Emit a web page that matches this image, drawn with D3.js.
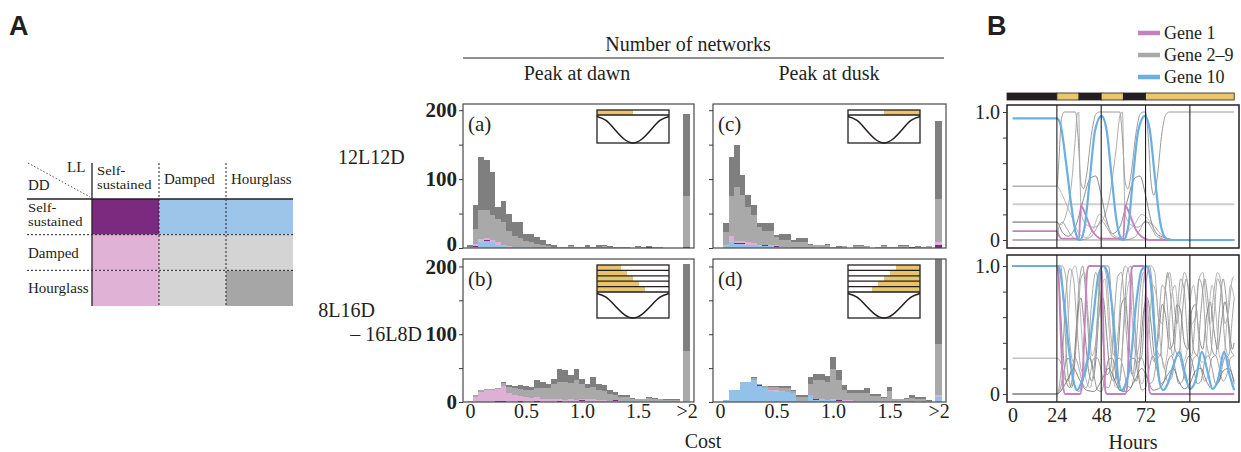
<!DOCTYPE html>
<html>
<head>
<meta charset="utf-8">
<script src="https://cdn.jsdelivr.net/npm/d3@7"></script>
<style>
  body { margin: 0; background: #fff; }
  svg { display: block; }
  text { font-family: "Liberation Serif", "Times New Roman", serif; fill: #231f20; }
  .tick line { stroke: #3a3a3a; }
</style>
</head>
<body>
<svg id="chart" width="1241" height="452"></svg>
<script>
// ---------- A: classification table ----------
const llStates = ["Self-\nsustained", "Damped", "Hourglass"];
const ddStates = ["Self-\nsustained", "Damped", "Hourglass"];
// [DD row][LL column]
const tableCells = [
  ["ss", "ssDD", "ssDD"],
  ["ssLL", "other", "other"],
  ["ssLL", "other", "hg"]
];

// ---------- A: cost histograms (counts per 0.05 bin, bins centred at 0, 0.05, ... 1.85) ----------
// layer order: ssDD (blue), ss (purple), ssLL (pink), other (light grey), hg (dark grey)
const dawn12_ssDD  = [0,2,8,10,8,4,3,2,1,1,1,1,0,0,1,0,0,0,0,0,0,0,0,0,0,0,0,0,0,0,1,0,0,0,0,0,0,0];
const dawn12_ss    = [0,1,0,1,1,0,0,0,0,0,0,0,0,0,0,0,0,0,0,0,0,0,0,0,0,0,0,0,0,0,0,0,1,0,0,0,0,0];
const dawn12_ssLL  = [1,3,5,3,3,4,2,1,1,1,0,0,0,0,0,0,0,0,0,0,0,0,0,0,0,0,0,0,0,0,0,0,0,0,0,0,0,0];
const dawn12_other = [1,22,42,41,36,34,33,22,16,13,9,7,6,4,2,2,1,1,3,2,1,2,2,2,3,2,1,1,2,0,1,1,1,2,1,0,0,0];
const dawn12_hg    = [2,35,77,73,62,18,30,25,20,23,11,12,10,7,3,2,1,0,2,0,0,2,0,2,2,1,0,0,0,0,1,0,1,0,1,0,0,0];
const dawn12_over  = [0,2,0,73,119];

const dusk12_ssDD  = [0,3,8,6,6,5,4,3,3,3,2,2,2,0,0,0,0,1,0,0,1,0,1,0,0,0,1,0,0,0,0,0,0,0,0,0,0,1];
const dusk12_ss    = [0,0,1,1,1,0,1,0,1,0,1,0,0,0,0,0,0,0,0,0,0,0,0,0,0,0,0,0,0,0,0,0,0,0,1,0,0,0];
const dusk12_ssLL  = [0,1,9,3,3,3,2,2,1,1,1,0,0,0,0,0,0,0,0,0,0,0,0,0,0,0,0,0,0,0,0,0,0,0,0,0,0,0];
const dusk12_other = [0,19,57,79,67,52,41,26,19,20,12,9,9,9,9,9,4,3,4,4,1,2,2,0,3,3,2,0,2,3,1,1,3,3,1,2,2,2];
const dusk12_hg    = [0,13,57,61,29,17,14,5,13,13,3,9,9,2,5,5,2,1,1,2,0,1,0,0,1,1,0,0,0,2,0,0,1,1,0,1,0,0];
const dusk12_over  = [0,5,3,63,113];

const dawnVar_ssDD  = [0,0,0,0,0,0,0,0,0,0,1,0,0,0,0,0,0,0,1,1,2,2,2,2,2,2,2,2,2,1,1,1,1,1,1,1,1,1];
const dawnVar_ss    = [0,0,0,0,0,1,1,0,0,1,0,0,1,0,0,0,1,0,0,0,1,0,0,0,0,0,1,0,0,0,0,0,0,0,0,0,0,0];
const dawnVar_ssLL  = [2,8,15,17,17,18,22,13,10,8,7,6,6,5,5,4,4,3,3,2,2,2,2,1,1,0,0,0,0,0,0,0,0,0,0,0,0,0];
const dawnVar_other = [0,2,3,2,2,1,5,9,10,10,10,12,13,16,15,22,24,26,24,30,22,16,18,14,13,10,8,6,6,4,3,3,5,4,3,2,2,2];
const dawnVar_hg    = [0,0,0,0,0,0,2,3,3,6,6,4,12,9,6,8,19,18,12,16,7,7,15,10,9,5,4,2,2,1,1,1,1,1,1,1,1,1];
const dawnVar_over  = [1,0,1,73,128];

const duskVar_ssDD  = [0,3,17,17,30,30,32,24,20,16,15,15,15,14,2,2,10,3,3,3,3,2,2,2,2,1,1,1,1,1,2,0,2,1,0,0,0,0];
const duskVar_ss    = [0,0,0,0,0,0,0,1,0,0,0,0,0,0,0,0,0,1,0,0,0,1,0,0,0,1,0,0,0,1,0,0,0,0,0,0,0,0];
const duskVar_ssLL  = [0,0,0,0,0,0,0,0,0,2,3,1,0,0,0,0,0,0,1,0,1,0,1,1,0,0,0,0,0,0,0,0,0,0,0,1,0,0];
const duskVar_other = [0,0,0,0,0,0,4,2,3,4,4,5,6,2,6,6,17,28,28,26,45,29,14,10,11,11,13,8,8,4,14,4,2,4,6,4,5,2];
const duskVar_hg    = [0,0,0,0,0,0,1,0,1,1,1,2,2,1,2,2,10,10,10,10,18,15,8,4,4,4,6,3,3,1,6,1,1,1,4,2,2,1];
const duskVar_over  = [7,0,3,75,127];

const costTicks = [0, 0.5, 1.0, 1.5];
const overflowLabel = ">2";
const overflowAt = 1.935;
const photoperiods12 = [12];
const photoperiodsVar = [8, 10, 12, 14, 16];
// schematic of peak time in the insets (hour of day, relative level)
const insetCurve = [[0,1],[3,0.85],[6,0.5],[9,0.15],[12,0],[15,0.15],[18,0.5],[21,0.85],[24,1]];

// ---------- B: example traces ----------
const lightSchedule = [[-3,24,0],[24,36,1],[36,48,0],[48,60,1],[60,72,0],[72,120,1]];
const hourTicks = [0, 24, 48, 72, 96];

const top_gene1 = [[0,0.07],[24,0.07],[25,0.04],[26.5,0.01],[36,0.01],[36.5,0.15],[37,0.27],[38,0.25],[40,0.18],[42.8,0.08],[45.5,0.03],[48,0.01],[60,0.01],[60.5,0.15],[61,0.27],[62,0.25],[64,0.18],[66.8,0.08],[69.5,0.03],[72,0.01],[74,0],[120,0]];
const top_gene10 = [[0,0.95],[24,0.95],[26,0.9],[29,0.6],[32,0.25],[34.3,0.05],[36.5,0],[39,0.1],[42,0.5],[44.6,0.85],[48.2,0.97],[51,0.85],[53.6,0.5],[56.3,0.15],[58.5,0.02],[60,0],[62.6,0.1],[65.3,0.5],[68,0.85],[71.7,0.97],[74.4,0.85],[77,0.5],[79.8,0.15],[82.5,0.02],[85,0],[120,0]];
const top_genes2to9 = [
  [[0,0.42],[24,0.42],[25,0.6],[26.5,0.95],[28,1],[34,1],[35.5,0.8],[37,0.45],[38.5,0.4],[40,0.5],[43,0.85],[45,0.98],[47,1],[58,1],[59.5,0.8],[61,0.45],[62.5,0.4],[64,0.5],[67,0.85],[69,0.98],[71,1],[72,1],[73.5,0.8],[75,0.45],[76.5,0.35],[78,0.45],[81,0.85],[83,0.98],[85,1],[120,1]],
  [[0,0.14],[24,0.14],[26,0.12],[29,0.2],[32,0.45],[34,0.8],[35,0.98],[35.8,1],[36.5,0.5],[37.3,0.2],[40,0.12],[44,0.1],[48,0.14],[52,0.3],[56,0.7],[58.3,0.98],[59.5,1],[60.3,0.5],[61,0.2],[64,0.12],[68,0.1],[72,0.14],[76,0.12],[80,0.05],[86,0],[120,0]],
  [[0,0.14],[24,0.14],[27,0.06],[30,0.03],[34,0.1],[38,0.3],[42,0.48],[45,0.5],[48,0.35],[51,0.15],[54,0.05],[58,0.1],[62,0.3],[66,0.48],[69,0.5],[72,0.35],[75,0.15],[78,0.05],[82,0.02],[90,0],[120,0]],
  [[0,0],[24,0],[25,0.1],[27,0.14],[29,0.1],[32,0.03],[36,0],[42,0.02],[45,0.08],[48,0.15],[51,0.1],[54,0.03],[60,0],[66,0.02],[69,0.08],[72,0.15],[75,0.1],[78,0.03],[84,0],[120,0]],
  [[0,0],[120,0]],
  [[0,0.42],[24,0.42],[27,0.35],[30,0.25],[33,0.15],[36,0.05],[40,0.02],[44,0.1],[47,0.2],[50,0.15],[54,0.05],[58,0.02],[62,0.06],[66,0.12],[70,0.2],[74,0.15],[78,0.05],[84,0],[120,0]]
];
const top_flatGene = [[0,0.28],[120,0.28]];

const bot_gene1 = [[0,1],[24,1],[24.7,0.98],[26,0.5],[27.5,0.05],[28.5,0],[36.5,0],[37.5,0.05],[39,0.5],[40.5,0.97],[41.5,1],[47.3,1],[48.3,0.95],[49.2,0.5],[50.2,0.03],[51,0],[61,0],[62,0.05],[63.2,0.5],[64.4,0.97],[65.5,1],[70.8,1],[71.8,0.95],[72.8,0.5],[74,0.03],[75,0],[120,0]];
const bot_gene10 = [[0,1],[24,1],[25.6,0.97],[28,0.7],[30.5,0.35],[33,0.1],[35,0.03],[37,0.08],[40,0.21],[43.7,0.6],[46.4,0.92],[49.1,1],[50.9,0.97],[54.5,0.6],[57.2,0.13],[59,0.03],[61,0.07],[63.5,0.21],[67.1,0.73],[69.9,0.97],[72.6,1],[74.4,0.92],[77,0.47],[79.8,0.08],[81.6,0.03],[84,0.08],[87,0.22],[90.3,0.33],[93,0.18],[96,0.04],[99,0.1],[102.5,0.33],[105.5,0.18],[108.3,0.04],[111,0.1],[114.6,0.33],[117.5,0.15],[120,0.03]];
const bot_genes2to9 = [
  [[0,1],[24,1],[26,1],[28,0.6],[30,0.15],[32,0.05],[34,0.3],[36,0.85],[38,1],[40,0.7],[42,0.3],[44,0.2],[46,0.6],[48,1],[52,1],[54,0.6],[56,0.2],[58,0.1],[60,0.5],[62,0.95],[64,1],[66,0.6],[68,0.25],[70,0.3],[72,0.8],[74,1],[76,0.8],[78,0.35],[80,0.3],[82,0.7],[84,0.95],[86,0.7],[88,0.35],[90,0.3],[92,0.65],[94,0.9],[96,0.7],[98,0.35],[100,0.3],[102,0.65],[104,0.9],[106,0.7],[108,0.35],[110,0.3],[112,0.65],[114,0.9],[116,0.7],[118,0.35],[120,0.3]],
  [[0,1],[24,1],[27,1],[29,0.9],[31,0.4],[33,0.25],[35,0.5],[37,0.9],[39,0.95],[41,0.6],[43,0.3],[45,0.4],[47,0.85],[49,1],[51,0.9],[53,0.5],[55,0.3],[57,0.45],[59,0.85],[61,1],[63,0.95],[65,0.55],[67,0.3],[69,0.45],[71,0.9],[73,1],[75,1],[77,0.95],[79,0.6],[81,0.55],[83,0.85],[85,0.95],[87,0.75],[89,0.55],[91,0.75],[93,0.95],[95,0.85],[97,0.55],[99,0.6],[101,0.9],[103,0.95],[105,0.7],[107,0.55],[109,0.8],[111,0.95],[113,0.85],[115,0.55],[117,0.65],[119,0.9],[120,0.92]],
  [[0,1],[24,1],[25,0.9],[27,0.4],[29,0.1],[31,0.05],[33,0.2],[35,0.6],[37,0.75],[39,0.5],[41,0.2],[43,0.1],[45,0.25],[47,0.65],[49,0.75],[51,0.45],[53,0.15],[55,0.1],[57,0.3],[59,0.7],[61,0.75],[63,0.4],[65,0.15],[67,0.1],[69,0.3],[71,0.65],[73,0.75],[75,0.55],[77,0.3],[79,0.45],[81,0.7],[83,0.6],[85,0.35],[87,0.4],[89,0.7],[91,0.65],[93,0.4],[95,0.35],[97,0.65],[99,0.7],[101,0.45],[103,0.35],[105,0.6],[107,0.72],[109,0.5],[111,0.35],[113,0.55],[115,0.72],[117,0.55],[119,0.35],[120,0.4]],
  [[0,0.28],[24,0.28],[26,0.25],[28,0.12],[30,0.1],[32,0.2],[34,0.28],[36,0.2],[38,0.08],[40,0.05],[42,0.15],[44,0.28],[46,0.28],[48,0.18],[50,0.06],[52,0.05],[54,0.15],[56,0.27],[58,0.28],[60,0.2],[62,0.07],[64,0.05],[66,0.15],[68,0.28],[70,0.28],[72,0.18],[74,0.08],[76,0.1],[78,0.25],[80,0.3],[82,0.22],[84,0.1],[86,0.12],[88,0.26],[90,0.3],[92,0.2],[94,0.1],[96,0.14],[98,0.28],[100,0.3],[102,0.2],[104,0.1],[106,0.15],[108,0.28],[110,0.3],[112,0.2],[114,0.1],[116,0.15],[118,0.28],[120,0.3]],
  [[0,0],[24,0],[26,0.05],[28,0.2],[30,0.28],[32,0.2],[34,0.05],[36,0.02],[38,0.1],[40,0.25],[42,0.28],[44,0.15],[46,0.03],[48,0.02],[50,0.12],[52,0.27],[54,0.28],[56,0.15],[58,0.03],[60,0.02],[62,0.12],[64,0.27],[66,0.28],[68,0.15],[70,0.03],[72,0.05],[74,0.2],[76,0.3],[78,0.2],[80,0.08],[82,0.1],[84,0.25],[86,0.3],[88,0.2],[90,0.08],[92,0.1],[94,0.25],[96,0.3],[98,0.2],[100,0.08],[102,0.1],[104,0.25],[106,0.3],[108,0.2],[110,0.08],[112,0.1],[114,0.25],[116,0.3],[118,0.2],[120,0.08]],
  [[0,0],[24,0],[26,0.02],[28,0.15],[30,0.55],[32,0.95],[34,1],[36,0.8],[38,0.35],[40,0.1],[42,0.05],[44,0.2],[46,0.5],[48,0.8],[50,0.9],[52,0.55],[54,0.2],[56,0.05],[58,0.1],[60,0.45],[62,0.8],[64,0.9],[66,0.55],[68,0.2],[70,0.08],[72,0.2],[74,0.55],[76,0.85],[78,0.75],[80,0.4],[82,0.2],[84,0.35],[86,0.75],[88,0.85],[90,0.55],[92,0.25],[94,0.3],[96,0.7],[98,0.85],[100,0.6],[102,0.25],[104,0.25],[106,0.6],[108,0.85],[110,0.65],[112,0.3],[114,0.25],[116,0.55],[118,0.85],[120,0.75]],
  [[0,0],[24,0],[26,0.02],[30,0.12],[33,0.2],[36,0.12],[40,0.03],[44,0.02],[48,0.1],[52,0.2],[55,0.12],[58,0.03],[62,0.02],[66,0.1],[70,0.2],[73,0.12],[76,0.03],[80,0.05],[84,0.15],[87,0.2],[90,0.1],[93,0.04],[96,0.08],[99,0.18],[102,0.2],[105,0.1],[108,0.04],[111,0.08],[114,0.18],[117,0.2],[120,0.1]],
  [[0,0],[24,0],[27,0.3],[29,0.8],[31,0.98],[33,0.9],[35,0.5],[37,0.2],[39,0.15],[41,0.35],[43,0.75],[45,0.95],[47,0.8],[49,0.4],[51,0.15],[53,0.2],[55,0.6],[57,0.92],[59,0.95],[61,0.6],[63,0.25],[65,0.15],[67,0.4],[69,0.8],[71,0.95],[73,0.7],[75,0.35],[77,0.25],[79,0.55],[81,0.85],[83,0.8],[85,0.45],[87,0.3],[89,0.6],[91,0.9],[93,0.8],[95,0.4],[97,0.3],[99,0.6],[101,0.9],[103,0.8],[105,0.4],[107,0.3],[109,0.6],[111,0.9],[113,0.8],[115,0.4],[117,0.3],[119,0.6],[120,0.75]]
];
const legendItems = [["Gene 1", "gene1"], ["Gene 2–9", "grey"], ["Gene 10", "gene10"]];

// ---------- styles ----------
const tableColor = { ss: "#7b2a7f", ssDD: "#9dc5e9", ssLL: "#dfb2d6", other: "#d4d4d4", hg: "#a6a6a6" };
const histColor  = { ss: "#7b2a7f", ssDD: "#92c2ea", ssLL: "#dfb0d6", other: "#a9a9a9", hg: "#7f7f7f" };
const traceColor = { gene1: "#c680bd", grey: "#a8a8a8", gene10: "#6aafe2" };
const ink = "#231f20";
const serif = '"Liberation Serif", "Times New Roman", serif';
const sans = '"Liberation Sans", Arial, sans-serif';

const svg = d3.select("#chart");

// big panel letters
svg.append("text").attr("x", 9).attr("y", 35).text("A")
  .style("font-family", sans).attr("font-weight", "bold").attr("font-size", 27);
svg.append("text").attr("x", 987).attr("y", 35).text("B")
  .style("font-family", sans).attr("font-weight", "bold").attr("font-size", 27);

// ================= table =================
const tx = d3.scaleBand().domain([0, 1, 2]).range([92, 293]);
const ty = d3.scaleBand().domain([0, 1, 2]).range([199, 306]);
const table = svg.append("g");

table.selectAll("g.row").data(tableCells).join("g")
  .each(function(row, r) {
    d3.select(this).selectAll("rect").data(row).join("rect")
      .attr("x", (d, c) => tx(c)).attr("y", ty(r))
      .attr("width", tx.bandwidth()).attr("height", ty.bandwidth())
      .attr("fill", d => tableColor[d]);
  });

// grid lines
table.append("line").attr("x1", 92).attr("x2", 92).attr("y1", 163).attr("y2", 306)
  .attr("stroke", ink).attr("stroke-width", 1.3);
table.append("line").attr("x1", 27).attr("x2", 293).attr("y1", 199).attr("y2", 199)
  .attr("stroke", ink).attr("stroke-width", 1.3);
[1, 2].forEach(c => {
  table.append("line").attr("x1", tx(c)).attr("x2", tx(c)).attr("y1", 163).attr("y2", 306)
    .attr("stroke", ink).attr("stroke-width", 1).attr("stroke-dasharray", "2,2");
});
[1, 2].forEach(r => {
  table.append("line").attr("x1", 27).attr("x2", 293).attr("y1", ty(r)).attr("y2", ty(r))
    .attr("stroke", ink).attr("stroke-width", 1).attr("stroke-dasharray", "2,2");
});
table.append("line").attr("x1", 28).attr("y1", 163).attr("x2", 90).attr("y2", 197)
  .attr("stroke", ink).attr("stroke-width", 0.8).attr("stroke-dasharray", "1.5,2");
table.append("text").attr("x", 67).attr("y", 172).attr("font-size", 15).text("LL");
table.append("text").attr("x", 28).attr("y", 190).attr("font-size", 15).text("DD");

// two-line labels: small font, stretched back to the width of the 15px text
function twoLine(x, y, lines) {
  lines.forEach((ln, k) => {
    const t = table.append("text").attr("font-size", 12).attr("x", x).attr("y", y + k * 13.5).text(ln);
    const w = t.node().getComputedTextLength();
    t.attr("textLength", w * 1.22).attr("lengthAdjust", "spacingAndGlyphs");
  });
}
// column headers
llStates.forEach((s, c) => {
  const lines = s.split("\n");
  if (lines.length === 2) twoLine(tx(c) + 5, 175, lines);
  else table.append("text").attr("font-size", 15).attr("x", tx(c) + 5).attr("y", 184).text(s);
});
// row headers
ddStates.forEach((s, r) => {
  const lines = s.split("\n");
  const cy = ty(r) + ty.bandwidth() / 2;
  if (lines.length === 2) twoLine(28, cy - 4.5, lines);
  else table.append("text").attr("font-size", 15).attr("x", 28).attr("y", cy + 5).text(s);
});

// ================= histograms =================
const layerKeys = ["ssDD", "ss", "ssLL", "other", "hg"];
const costBinWidth = 0.05;
const costBins = d3.range(dawn12_hg.length).map(i => i * costBinWidth);
const columns = [{ x0: 463, x1: 694 }, { x0: 713, x1: 946 }];
const rowsY = [{ y0: 104, y1: 248, top: 209 }, { y0: 259, y1: 402, top: 211 }];

const panels = [
  { tag: "(a)", col: 0, row: 0, side: "dawn", periods: photoperiods12,
    data: [dawn12_ssDD, dawn12_ss, dawn12_ssLL, dawn12_other, dawn12_hg], over: dawn12_over },
  { tag: "(b)", col: 0, row: 1, side: "dawn", periods: photoperiodsVar,
    data: [dawnVar_ssDD, dawnVar_ss, dawnVar_ssLL, dawnVar_other, dawnVar_hg], over: dawnVar_over },
  { tag: "(c)", col: 1, row: 0, side: "dusk", periods: photoperiods12,
    data: [dusk12_ssDD, dusk12_ss, dusk12_ssLL, dusk12_other, dusk12_hg], over: dusk12_over },
  { tag: "(d)", col: 1, row: 1, side: "dusk", periods: photoperiodsVar,
    data: [duskVar_ssDD, duskVar_ss, duskVar_ssLL, duskVar_other, duskVar_hg], over: duskVar_over }
];

panels.forEach((p, pi) => {
  const col = columns[p.col], rw = rowsY[p.row];
  const x = d3.scaleLinear().domain([-0.0625, 2.0]).range([col.x0, col.x1]);
  const y = d3.scaleLinear().domain([0, rw.top]).range([rw.y1, rw.y0]);
  const g = svg.append("g");

  const clipId = "hclip" + pi;
  g.append("clipPath").attr("id", clipId).append("rect")
    .attr("x", col.x0).attr("y", rw.y0).attr("width", col.x1 - col.x0).attr("height", rw.y1 - rw.y0);

  const rows = costBins.map((c, i) => {
    const o = { c: c, w: costBinWidth };
    layerKeys.forEach((k, j) => o[k] = p.data[j][i]);
    return o;
  });
  const ov = { c: overflowAt, w: 0.065 };
  layerKeys.forEach((k, j) => ov[k] = p.over[j]);
  rows.push(ov);

  const stacked = d3.stack().keys(layerKeys)(rows);
  g.append("g").attr("clip-path", `url(#${clipId})`)
    .selectAll("g").data(stacked).join("g")
    .attr("fill", d => histColor[d.key])
    .selectAll("rect").data(d => d.filter(s => s[1] > s[0])).join("rect")
    .attr("shape-rendering", "crispEdges")
    .attr("x", d => x(d.data.c - d.data.w / 2))
    .attr("width", d => x(d.data.w) - x(0))
    .attr("y", d => y(d[1]))
    .attr("height", d => y(d[0]) - y(d[1]));

  // frame
  g.append("rect").attr("x", col.x0).attr("y", rw.y0)
    .attr("width", col.x1 - col.x0).attr("height", rw.y1 - rw.y0)
    .attr("fill", "none").attr("stroke", "#4a4a4a").attr("stroke-width", 1.2);

  // y axis
  const yAx = d3.axisLeft(y).tickValues([0, 50, 100, 150, 200]).tickSize(4).tickPadding(2)
    .tickFormat(d => (p.col === 0 && d % 100 === 0) ? d : "");
  g.append("g").attr("transform", `translate(${col.x0},0)`).call(yAx)
    .call(a => a.select(".domain").remove())
    .call(a => a.selectAll("text").style("font-family", serif).attr("font-size", 21)
      .attr("font-weight", "bold").attr("fill", ink)
      .attr("dy", d => (p.row === 0 && d === 0) ? "0.1em" : "0.32em"));

  // x axis labels on the lower row
  if (p.row === 1) {
    const xAx = d3.axisBottom(x).tickValues(costTicks.concat([overflowAt])).tickSize(0).tickPadding(2)
      .tickFormat(d => d === overflowAt ? overflowLabel : (d === 0 ? "0" : d3.format(".1f")(d)));
    g.append("g").attr("transform", `translate(0,${rw.y1})`).call(xAx)
      .call(a => a.select(".domain").remove())
      .call(a => a.selectAll("text").style("font-family", serif).attr("font-size", 20).attr("fill", ink));
  }

  // panel tag
  g.append("text").attr("x", col.x0 + 5).attr("y", rw.y0 + 27).attr("font-size", 21).text(p.tag);

  // inset: light schedule strips + expression peak schematic
  const bx0 = p.col === 0 ? 597 : 848, bx1 = bx0 + 72;
  const by0 = rw.y0 + 6;
  const stripH = p.periods.length === 1 ? 5 : 5.4;
  const curveTop = by0 + stripH * p.periods.length;
  const by1 = p.row === 0 ? rw.y0 + 39 : rw.y0 + 59;
  const ix = d3.scaleLinear().domain([0, 24]).range([bx0, bx1]);
  const iy = d3.scaleLinear().domain([0, 1]).range([by1, curveTop + 1.5]);
  const inset = g.append("g");
  inset.append("rect").attr("x", bx0).attr("y", by0).attr("width", bx1 - bx0).attr("height", by1 - by0)
    .attr("fill", "#fff");
  inset.selectAll("rect.light").data(p.periods).join("rect").attr("class", "light")
    .attr("x", d => p.side === "dawn" ? ix(0) : ix(24 - d))
    .attr("width", d => ix(d) - ix(0))
    .attr("y", (d, i) => by0 + i * stripH).attr("height", stripH)
    .attr("fill", "#e8c46c");
  inset.selectAll("line.strip").data(p.periods).join("line").attr("class", "strip")
    .attr("x1", bx0).attr("x2", bx1)
    .attr("y1", (d, i) => by0 + (i + 1) * stripH).attr("y2", (d, i) => by0 + (i + 1) * stripH)
    .attr("stroke", ink).attr("stroke-width", 1.3);
  inset.append("path").datum(insetCurve)
    .attr("d", d3.line().x(d => ix(d[0])).y(d => iy(d[1])).curve(d3.curveNatural))
    .attr("fill", "none").attr("stroke", ink).attr("stroke-width", 1.5);
  inset.append("rect").attr("x", bx0).attr("y", by0).attr("width", bx1 - bx0).attr("height", by1 - by0)
    .attr("fill", "none").attr("stroke", ink).attr("stroke-width", 1.3);
});

// headings and row labels
svg.append("text").attr("x", 688).attr("y", 51).attr("text-anchor", "middle").attr("font-size", 20).text("Number of networks");
svg.append("line").attr("x1", 463).attr("x2", 944).attr("y1", 58).attr("y2", 58).attr("stroke", ink).attr("stroke-width", 1);
svg.append("text").attr("x", 577).attr("y", 80).attr("text-anchor", "middle").attr("font-size", 20).text("Peak at dawn");
svg.append("text").attr("x", 829).attr("y", 80).attr("text-anchor", "middle").attr("font-size", 20).text("Peak at dusk");
svg.append("text").attr("x", 338).attr("y", 164).attr("font-size", 20).text("12L12D");
svg.append("text").attr("x", 375).attr("y", 317).attr("text-anchor", "end").attr("font-size", 20).text("8L16D");
svg.append("text").attr("x", 422).attr("y", 341).attr("text-anchor", "end").attr("font-size", 20).text("– 16L8D");
svg.append("text").attr("x", 703).attr("y", 448).attr("text-anchor", "middle").attr("font-size", 20).text("Cost");

// ================= B: traces =================
const xH = d3.scaleLinear().domain([-3, 122.6]).range([1007, 1239]);

// light / dark bar
svg.append("g").selectAll("rect").data(lightSchedule).join("rect")
  .attr("x", d => xH(d[0])).attr("width", d => xH(d[1]) - xH(d[0]))
  .attr("y", 93).attr("height", 7)
  .attr("fill", d => d[2] ? "#ebc66d" : ink)
  .attr("stroke", ink).attr("stroke-width", 0.8);

const bPanels = [
  { y0: 105, y1: 248, v1: 112, v0: 240, gene1: top_gene1, gene10: top_gene10, grey: top_genes2to9, flat: top_flatGene, xLabels: false },
  { y0: 255, y1: 402, v1: 266, v0: 394, gene1: bot_gene1, gene10: bot_gene10, grey: bot_genes2to9, flat: null, xLabels: true }
];
const greyShades = ["#8f8f8f", "#a4a4a4", "#7c7c7c", "#9a9a9a", "#8a8a8a", "#b0b0b0", "#777777", "#9c9c9c"];

bPanels.forEach((bp, bi) => {
  const y = d3.scaleLinear().domain([0, 1]).range([bp.v0, bp.v1]);
  const g = svg.append("g");
  const clipId = "bclip" + bi;
  g.append("clipPath").attr("id", clipId).append("rect")
    .attr("x", xH.range()[0]).attr("y", bp.y0).attr("width", xH.range()[1] - xH.range()[0]).attr("height", bp.y1 - bp.y0);
  const line = d3.line().x(d => xH(d[0])).y(d => y(d[1])).curve(d3.curveMonotoneX);
  const plot = g.append("g").attr("clip-path", `url(#${clipId})`);

  if (bp.flat) {
    plot.append("path").datum(bp.flat).attr("d", line)
      .attr("fill", "none").attr("stroke", "#cfcfcf").attr("stroke-width", 2);
  }
  plot.selectAll("path.grey").data(bp.grey).join("path").attr("class", "grey")
    .attr("d", line).attr("fill", "none")
    .attr("stroke", (d, i) => greyShades[i % greyShades.length]).attr("stroke-width", 0.9);
  plot.append("path").datum(bp.gene1).attr("d", line)
    .attr("fill", "none").attr("stroke", traceColor.gene1).attr("stroke-width", 1.8);
  plot.append("path").datum(bp.gene10).attr("d", line)
    .attr("fill", "none").attr("stroke", traceColor.gene10).attr("stroke-width", 2.2);

  // day boundaries
  g.selectAll("line.day").data(hourTicks.filter(h => h > 0)).join("line").attr("class", "day")
    .attr("x1", d => xH(d)).attr("x2", d => xH(d)).attr("y1", bp.y0).attr("y2", bp.y1)
    .attr("stroke", ink).attr("stroke-width", 1.1);

  g.append("rect").attr("x", xH.range()[0]).attr("y", bp.y0)
    .attr("width", xH.range()[1] - xH.range()[0]).attr("height", bp.y1 - bp.y0)
    .attr("fill", "none").attr("stroke", ink).attr("stroke-width", 1.5);

  const yAx = d3.axisLeft(y).tickValues([0, 0.2, 0.4, 0.6, 0.8, 1.0]).tickSize(4).tickPadding(3)
    .tickFormat(d => d === 0 ? "0" : (d === 1 ? "1.0" : ""));
  g.append("g").attr("transform", `translate(${xH.range()[0]},0)`).call(yAx)
    .call(a => a.select(".domain").remove())
    .call(a => a.selectAll("text").style("font-family", serif).attr("font-size", 20).attr("fill", ink));

  if (bp.xLabels) {
    const xAx = d3.axisBottom(xH).tickValues(hourTicks).tickSize(0).tickPadding(6);
    g.append("g").attr("transform", `translate(0,${bp.y1})`).call(xAx)
      .call(a => a.select(".domain").remove())
      .call(a => a.selectAll("text").style("font-family", serif).attr("font-size", 20).attr("fill", ink));
  }
});

svg.append("text").attr("x", 1133).attr("y", 449).attr("text-anchor", "middle").attr("font-size", 20).text("Hours");

// legend
const legend = svg.append("g").selectAll("g").data(legendItems).join("g")
  .attr("transform", (d, i) => `translate(1138,${33 + i * 22})`);
legend.append("line").attr("x1", 0).attr("x2", 22).attr("y1", 0).attr("y2", 0)
  .attr("stroke", d => traceColor[d[1]]).attr("stroke-width", 4.5);
legend.append("text").attr("x", 26).attr("y", 6).attr("font-size", 18).text(d => d[0]);
</script>
</body>
</html>
